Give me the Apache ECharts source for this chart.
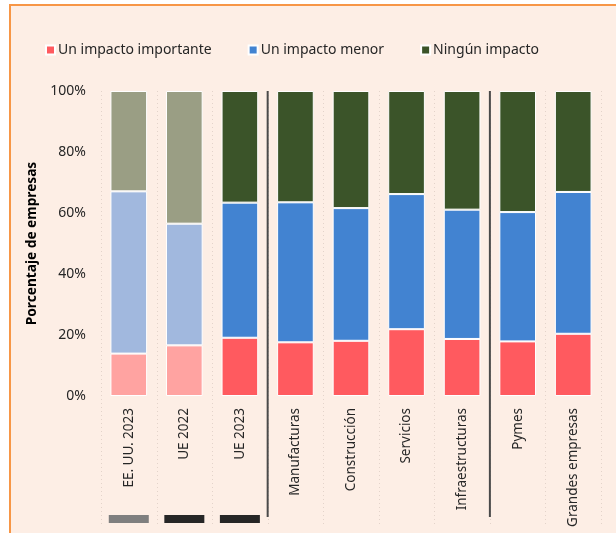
<!DOCTYPE html>
<html><head><meta charset="utf-8">
<script src="https://cdn.jsdelivr.net/npm/echarts@6/dist/echarts.min.js"></script>
<style>html,body{margin:0;padding:0;background:#fff;}#c{width:616px;height:533px;}</style>
</head><body><div id="c"></div>
<script>
const categories = ["EE. UU. 2023","UE 2022","UE 2023","Manufacturas","Construcción","Servicios","Infraestructuras","Pymes","Grandes empresas"];
const importante = [13.9, 16.6, 19.1, 17.6, 18.1, 21.9, 18.7, 17.9, 20.4];
const menor      = [53.2, 39.9, 44.3, 45.9, 43.5, 44.3, 42.4, 42.4, 46.5];
const ninguno    = [32.9, 43.5, 36.6, 36.5, 38.4, 33.8, 38.9, 39.7, 33.1];
const yTicks = [0, 20, 40, 60, 80, 100];
const faded = [true, true, false, false, false, false, false, false, false];
const groupBreaks = [2.5, 6.5];          // separators between category groups
const markerColors = ["#7f7f7f", "#262626", "#262626"]; // blocks under first three bars

const FONT = "Noto Sans";
const colors = {
  imp: ["#FF5A5F", "#FFA3A1"],
  men: ["#4283D1", "#A1B8DE"],
  nin: ["#3B5429", "#9A9E84"]
};
function mk(vals, key){
  return vals.map((v,i)=>({value:v, itemStyle:{color: colors[key][faded[i]?1:0]}}));
}
const chart = echarts.init(document.getElementById('c'), null, {renderer:'canvas'});
const barCommon = {type:'bar', stack:'s', barCategoryGap:'34%', itemStyle:{borderColor:'#ffffff', borderWidth:1}};
const option = {
  animation:false,
  textStyle:{fontFamily:FONT},
  legend:{
    left:40, top:38, itemWidth:9, itemHeight:9, itemGap:36, icon:'rect',
    textStyle:{fontFamily:FONT, fontSize:14, color:'#262626', padding:[0,0,0,-2]},
    data:[
      {name:'Un impacto importante', itemStyle:{color:colors.imp[0]}},
      {name:'Un impacto menor', itemStyle:{color:colors.men[0]}},
      {name:'Ningún impacto', itemStyle:{color:colors.nin[0]}}
    ]
  },
  grid:{left:101, right:15, top:91, bottom:137},
  xAxis:{type:'category', data:categories,
    axisLine:{show:false}, axisTick:{show:false},
    axisLabel:{rotate:90, fontFamily:FONT, fontSize:13.5, color:'#262626', margin:12, interval:0},
    splitLine:{show:false}
  },
  yAxis:{type:'value', min:0, max:100, interval:20,
    name:'Porcentaje de empresas', nameLocation:'middle', nameGap:60,
    nameTextStyle:{fontFamily:FONT, fontSize:13.7, fontWeight:'bold', color:'#000'},
    axisLine:{show:false}, axisTick:{show:false}, splitLine:{show:false},
    axisLabel:{fontFamily:FONT, fontSize:14, color:'#262626', margin:15,
      formatter:v=> yTicks.includes(v) ? v+'%' : ''}
  },
  series:[
    Object.assign({name:'Un impacto importante', data:mk(importante,'imp')}, barCommon),
    Object.assign({name:'Un impacto menor', data:mk(menor,'men')}, barCommon),
    Object.assign({name:'Ningún impacto', data:mk(ninguno,'nin')}, barCommon)
  ]
};
chart.setOption(option);

// decorations computed from the axis scale
const x0 = chart.convertToPixel({gridIndex:0}, [0, 0])[0];
const step = chart.convertToPixel({gridIndex:0}, [1, 0])[0] - x0;
const xAt = v => x0 + v * step;
const yTop = chart.convertToPixel({gridIndex:0}, [0, 100])[1];
const g = [];
g.push({type:'rect', z:-10, silent:true, shape:{x:10, y:5, width:700, height:700},
  style:{fill:'#FDEEE5', stroke:'#F79646', lineWidth:2}});
for (let i = 0; i <= categories.length; i++) {
  const x = Math.round(xAt(i - 0.5)) + 0.5;
  g.push({type:'line', z:-5, silent:true, shape:{x1:x, y1:yTop, x2:x, y2:526},
    style:{stroke:'#E3D3CA', lineWidth:1, lineDash:[1,3]}});
}
groupBreaks.forEach(b=>{
  const x = xAt(b);
  g.push({type:'line', z:5, silent:true, shape:{x1:x, y1:yTop, x2:x, y2:517},
    style:{stroke:'#4a4a4a', lineWidth:2}});
});
markerColors.forEach((c,i)=>{
  const cx = xAt(i);
  g.push({type:'rect', silent:true, shape:{x:cx - step*0.36, y:515, width:step*0.72, height:8},
    style:{fill:c}});
});
chart.setOption({graphic:g});
</script></body></html>
